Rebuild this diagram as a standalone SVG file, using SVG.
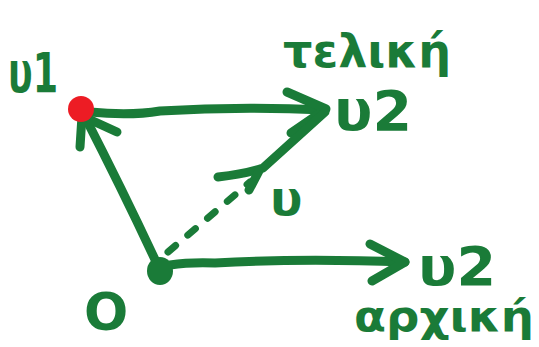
<svg xmlns="http://www.w3.org/2000/svg" width="539" height="347" viewBox="0 0 539 347">
<style>
.ln{fill:none;stroke:#1a7b38;stroke-width:9;stroke-linecap:round;stroke-linejoin:round}
.ds{fill:none;stroke:#1a7b38;stroke-width:7;stroke-linecap:round;stroke-dasharray:10 16}
.t{fill:#1a7b38;font-family:"DejaVu Sans","Noto Sans",sans-serif;font-weight:bold}
</style>
<rect width="539" height="347" fill="#fff"/>
<g id="connectors">
<path class="ln" d="M158 266 Q125 195 84 115"/>
<path class="ln" d="M80 147 L82 116 L117 132"/>
<path class="ln" d="M90 112 Q130 116 160 111 Q240 106 325 110"/>
<path class="ln" d="M287 92 L326 109 L291 133"/>
<path class="ds" d="M168 252 L250 182"/>
<path class="ln" d="M218 177 Q245 174 263 168 L325 112"/>
<path class="ln" d="M249 190 L259 171"/>
<path class="ln" d="M170 265 Q190 262 215 263 Q300 258 405 262"/>
<path class="ln" d="M370 244 L405 262 L372 281"/>
</g>
<g id="node-v1">
<circle cx="81" cy="109" r="13" fill="#ed1c24"/>
<text class="t" x="8" y="92" font-size="56" textLength="50" lengthAdjust="spacingAndGlyphs">υ1</text>
</g>
<g id="node-O">
<ellipse cx="160" cy="271" rx="13" ry="14" fill="#1a7b38"/>
<text class="t" x="84" y="330" font-size="52">O</text>
</g>
<g id="node-v2-final">
<text class="t" x="283" y="67" font-size="46" textLength="168" lengthAdjust="spacingAndGlyphs">τελική</text>
<text class="t" x="334" y="130" font-size="56" textLength="78" lengthAdjust="spacingAndGlyphs">υ2</text>
</g>
<g id="node-v">
<text class="t" x="270" y="215" font-size="48">υ</text>
</g>
<g id="node-v2-initial">
<text class="t" x="418" y="285" font-size="54" textLength="78" lengthAdjust="spacingAndGlyphs">υ2</text>
<text class="t" x="354" y="331" font-size="42" textLength="180" lengthAdjust="spacingAndGlyphs">αρχική</text>
</g>
</svg>
